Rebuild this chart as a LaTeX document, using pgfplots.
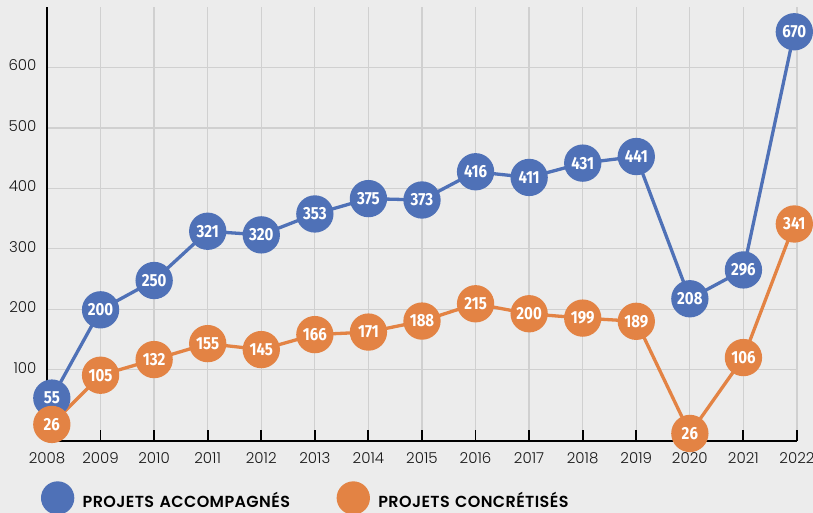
\documentclass[border=0pt]{standalone}
\usepackage{pgfplots}
\pgfplotsset{compat=1.18}
\usepackage{fontspec}
\setmainfont{Poppins}
\newfontfamily\tickfont{Poppins Light}
\newfontfamily\legfont{Poppins SemiBold}[LetterSpace=2.5]
\newfontfamily\numfont{Fira Sans}[FakeStretch=0.86]
\definecolor{bgc}{HTML}{ECECEC}
\definecolor{gridc}{HTML}{D0D0D0}
\definecolor{blueC}{HTML}{4F71B7}
\definecolor{orangeC}{HTML}{E38344}
\pgfplotstableread{
x y lab
2008.09 53 55
2009 199 200
2010 247.5 250
2011 329 321
2012 323 320
2013 357.6 353
2014 383 375
2015 380.7 373
2016 427.4 416
2017 418 411
2018 441.7 431
2019 452.6 441
2020 217.3 208
2021 265 296
2021.95 659 670
}\accomp
\pgfplotstableread{
x y lab
2008.09 9.4 26
2009 90.8 105
2010 116.7 132
2011 143.1 155
2012 133.2 145
2013 158 166
2014 162.2 171
2015 180.4 188
2016 209 215
2017 192.5 200
2018 185.3 199
2019 180 189
2020 -5.5 26
2021 120 106
2021.95 341 341
}\concret
\begin{document}
\begin{tikzpicture}
\fill[bgc] (0,0) rectangle (813pt,513pt);
\begin{axis}[
  at={(47pt,72pt)}, anchor=south west,
  scale only axis, width=750pt, height=434pt,
  xmin=2008, xmax=2022, ymin=-18, ymax=700,
  axis lines=left,
  axis line style={-, black, line width=1.8pt},
  xtick={2008,...,2022},
  ytick={100,200,...,600},
  tick align=inside,
  major tick length=11pt,
  xtick style={black, line width=1.8pt},
  ytick style={draw=none},
  xmajorgrids, ymajorgrids,
  grid style={gridc, line width=1.3pt},
  /pgf/number format/assume math mode=true,
  /pgf/number format/1000 sep={},
  tick label style={font=\tickfont\fontsize{15}{15}\selectfont, text=black!90},
  xticklabel style={yshift=-8pt},
  yticklabel style={xshift=-7pt, yshift=2pt},
  clip=false,
  legend columns=2,
  legend style={at={(-0.008,-0.1313)}, anchor=west, draw=none, fill=none,
    inner sep=0pt, outer sep=0pt, row sep=0pt, column sep=0pt,
    nodes={inner sep=0pt, outer sep=0pt, text width=254pt, align=left, anchor=base west,
      font=\legfont\fontsize{16}{16}\selectfont, text=black}},
  legend image code/.code={\fill (15pt,10pt) circle (15pt); \path[draw=none] (0pt,0pt) -- (40pt,0pt);},
  nodes near coords,
  nodes near coords align=center,
  every node near coord/.append style={anchor=center, text=white, inner sep=0pt,
    font=\numfont\bfseries\fontsize{17.5}{17.5}\selectfont},
  point meta=explicit symbolic,
]
\addplot[color=blueC, line width=3.3pt, mark=*, mark size=17pt,
  mark options={draw=none, fill=blueC}] table[x=x, y=y, meta=lab] {\accomp};
\addlegendentry{PROJETS ACCOMPAGNÉS}
\addplot[color=orangeC, line width=3.3pt, mark=*, mark size=17pt,
  mark options={draw=none, fill=orangeC}] table[x=x, y=y, meta=lab] {\concret};
\addlegendentry{PROJETS CONCRÉTISÉS}
\end{axis}
\pgfresetboundingbox
\path[use as bounding box] (0,0) rectangle (813pt,513pt);
\end{tikzpicture}
\end{document}
